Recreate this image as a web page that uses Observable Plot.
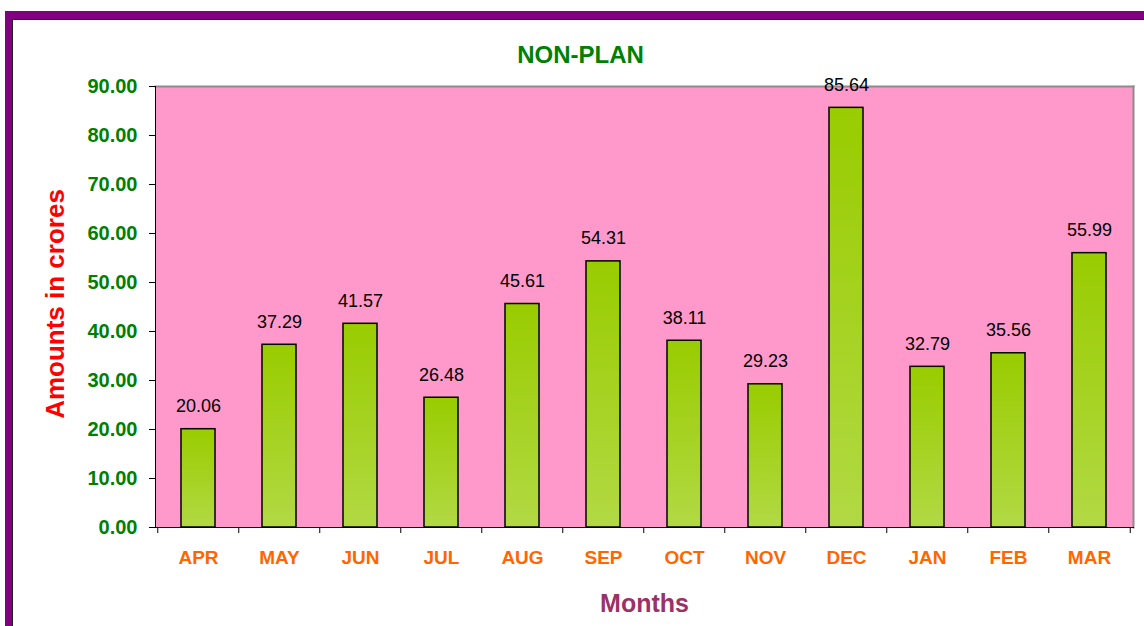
<!DOCTYPE html>
<html>
<head>
<meta charset="utf-8">
<script src="https://cdn.jsdelivr.net/npm/d3@7"></script>
<script src="https://cdn.jsdelivr.net/npm/@observablehq/plot@0.6"></script>
<style>
  html, body { margin: 0; padding: 0; background: #ffffff; width: 1144px; height: 626px; overflow: hidden; position: relative; }
  #frame { position: absolute; left: 5px; top: 11px; right: 0; bottom: 0; border-top: 8px solid #800080; border-left: 7px solid #800080; box-shadow: inset 1px 1px 0 #222; }
  #chart { position: absolute; left: 0; top: 0; }
</style>
</head>
<body>
<div id="frame"></div>
<div id="chart"></div>
<script>
const months = ["APR","MAY","JUN","JUL","AUG","SEP","OCT","NOV","DEC","JAN","FEB","MAR"];
const amounts = [20.06, 37.29, 41.57, 26.48, 45.61, 54.31, 38.11, 29.23, 85.64, 32.79, 35.56, 55.99];
const yTicks = [0, 10, 20, 30, 40, 50, 60, 70, 80, 90];
const title = "NON-PLAN";
const xLabel = "Months";
const yLabel = "Amounts in crores";

const data = months.map((m, i) => ({month: m, value: amounts[i]}));

const W = 1144, H = 626;
const mL = 155, mR = 11, mT = 86, mB = 99;
const halfStep = (W - mL - mR) / months.length / 2;

const gradient = () => {
  const defs = d3.create("svg:defs");
  const g = defs.append("linearGradient").attr("id", "barGrad")
    .attr("x1", 0).attr("y1", 0).attr("x2", 0).attr("y2", 1);
  g.append("stop").attr("offset", "0%").attr("stop-color", "#99cc00");
  g.append("stop").attr("offset", "100%").attr("stop-color", "#b2d944");
  return defs.node();
};

const chart = Plot.plot({
  width: W,
  height: H,
  marginLeft: mL,
  marginRight: mR,
  marginTop: mT,
  marginBottom: mB,
  style: {background: "transparent", fontFamily: "'Liberation Sans', Arial, sans-serif"},
  x: {domain: months, paddingInner: 0.58, paddingOuter: 0.29, label: null},
  y: {domain: [0, 90], label: null},
  marks: [
    gradient,
    Plot.frame({fill: "#ff99cc", stroke: null}),
    Plot.frame({anchor: "top", stroke: "#8c8c8c", strokeWidth: 2}),
    Plot.frame({anchor: "right", stroke: "#8c8c8c", strokeWidth: 2}),
    Plot.barY(data, {x: "month", y: "value", fill: "url(#barGrad)", stroke: "black", strokeWidth: 1.5}),
    Plot.text(data, {x: "month", y: "value", text: d => d3.format(".2f")(d.value), dy: -23, lineAnchor: "middle", fontSize: 18, fill: "black"}),
    Plot.frame({anchor: "left", stroke: "black"}),
    Plot.frame({anchor: "bottom", stroke: "black"}),
    Plot.axisY({ticks: yTicks, tickFormat: d3.format(".2f"), tickSize: 6, tickPadding: 12, fill: "#008000", stroke: "black", fontSize: 20, fontWeight: "bold", label: null}),
    Plot.axisX({tickSize: 0, tickPadding: 23, fill: "#ff6600", fontSize: 19, fontWeight: "bold", label: null}),
    Plot.axisX({tickSize: 6, tickFormat: () => "", dx: -halfStep, stroke: "black", label: null}),
    Plot.axisX({ticks: [months[months.length - 1]], tickSize: 6, tickFormat: () => "", dx: halfStep, stroke: "black", label: null}),
    Plot.text([title], {frameAnchor: "top", dy: -31, dx: -64, lineAnchor: "middle", fontSize: 24, fontWeight: "bold", fill: "#008000"}),
    Plot.text([xLabel], {frameAnchor: "bottom", dy: 76, lineAnchor: "middle", fontSize: 25, fontWeight: "bold", fill: "#993366"}),
    Plot.text([yLabel], {frameAnchor: "left", dx: -100, dy: -3, rotate: -90, textAnchor: "middle", lineAnchor: "middle", fontSize: 26, fontWeight: "bold", fill: "#ff0000"})
  ]
});
document.getElementById("chart").appendChild(chart);
</script>
</body>
</html>
